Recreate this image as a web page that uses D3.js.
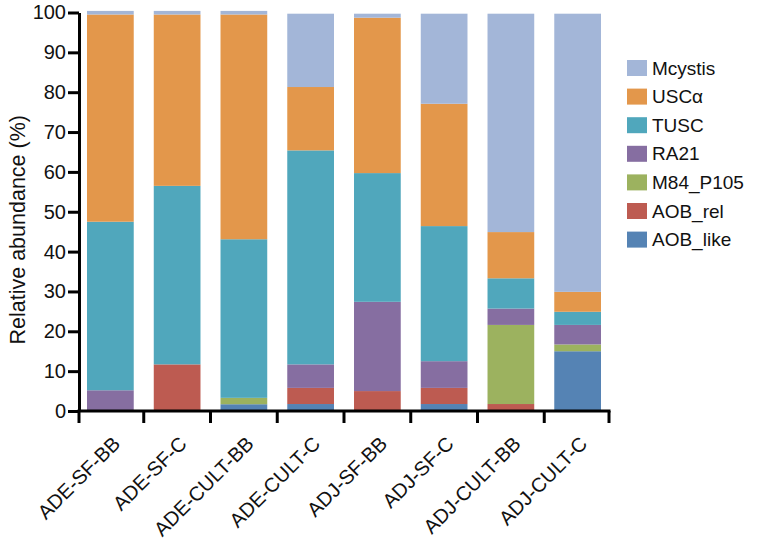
<!DOCTYPE html>
<html>
<head>
<meta charset="utf-8">
<script src="https://cdn.jsdelivr.net/npm/d3@7"></script>
<style>
  html, body { margin: 0; padding: 0; background: #fff; }
  svg { display: block; font-family: "Liberation Sans", Arial, sans-serif; }
</style>
</head>
<body>
<svg id="chart" width="758" height="544"></svg>
<script>
// ---- data ----
const categories = ["ADE-SF-BB", "ADE-SF-C", "ADE-CULT-BB", "ADE-CULT-C", "ADJ-SF-BB", "ADJ-SF-C", "ADJ-CULT-BB", "ADJ-CULT-C"];
// stacking order bottom -> top
const seriesNames = ["AOB_like", "AOB_rel", "M84_P105", "RA21", "TUSC", "USCα", "Mcystis"];
const AOB_like = [0, 0, 1.7, 1.75, 0, 1.75, 0, 15.0];
const AOB_rel  = [0, 11.7, 0, 4.05, 5.0, 4.05, 1.75, 0];
const M84_P105 = [0, 0, 1.6, 0, 0, 0, 19.85, 1.7];
const RA21     = [5.2, 0, 0, 5.9, 22.4, 6.7, 4.1, 4.9];
const TUSC     = [42.3, 44.8, 39.8, 53.7, 32.3, 33.9, 7.6, 3.3];
const USCa     = [52.0, 43.0, 56.4, 15.9, 39.0, 30.7, 11.6, 5.0];
const Mcystis  = [0.9, 0.9, 0.9, 18.4, 1.0, 22.6, 54.8, 69.8];
const yTicks = [0, 10, 20, 30, 40, 50, 60, 70, 80, 90, 100];
const legendOrder = ["Mcystis", "USCα", "TUSC", "RA21", "M84_P105", "AOB_rel", "AOB_like"];

const seriesValues = { "AOB_like": AOB_like, "AOB_rel": AOB_rel, "M84_P105": M84_P105, "RA21": RA21, "TUSC": TUSC, "USCα": USCa, "Mcystis": Mcystis };
const colors = {
  "Mcystis": "#a3b6d8",
  "USCα": "#e3974b",
  "TUSC": "#50a7bc",
  "RA21": "#866ea1",
  "M84_P105": "#9cb25f",
  "AOB_rel": "#bd5b51",
  "AOB_like": "#5583b4"
};

const table = categories.map((c, i) => {
  const row = { cat: c };
  seriesNames.forEach(s => row[s] = seriesValues[s][i]);
  return row;
});

const svg = d3.select("#chart");
const x0 = 79, x1 = 609, yBottom = 411, yTop = 12.5;

const x = d3.scaleBand().domain(categories).range([x0, x1]).paddingInner(0.3).paddingOuter(0.12);
const y = d3.scaleLinear().domain([0, 100]).range([yBottom, yTop]);

const stack = d3.stack().keys(seriesNames);
const stacked = stack(table);

// bars
svg.append("g").selectAll("g").data(stacked).join("g")
  .attr("fill", d => colors[d.key])
  .selectAll("rect").data(d => d).join("rect")
  .attr("x", d => x(d.data.cat))
  .attr("width", x.bandwidth())
  .attr("y", d => y(d[1]))
  .attr("height", d => Math.max(0, y(d[0]) - y(d[1])));

// y axis
const yAxis = d3.axisLeft(y).tickValues(yTicks).tickSize(11).tickPadding(2).tickSizeOuter(0);
const gy = svg.append("g").attr("transform", `translate(${x0},0)`).call(yAxis);
gy.select(".domain").attr("stroke", "#000").attr("stroke-width", 3);
gy.selectAll(".tick line").attr("stroke", "#000").attr("stroke-width", 3);
gy.selectAll(".tick text").attr("font-size", 20).attr("fill", "#111").attr("font-family", "Liberation Sans, Arial, sans-serif");

// x axis: line + ticks at band boundaries
const step = x.step();
const boundaries = categories.map((c, i) => i === 0 ? x0 : x(c) - step * x.paddingInner() / 2).concat([x1]);
const gx = svg.append("g");
gx.append("line").attr("x1", x0 - 1.5).attr("x2", x1 + 1.5).attr("y1", yBottom).attr("y2", yBottom)
  .attr("stroke", "#000").attr("stroke-width", 3);
gx.selectAll("line.tk").data(boundaries).join("line").attr("class", "tk")
  .attr("x1", d => d).attr("x2", d => d).attr("y1", yBottom).attr("y2", yBottom + 12)
  .attr("stroke", "#000").attr("stroke-width", 3);
gx.selectAll("text").data(categories).join("text")
  .attr("transform", d => `translate(${x(d) + x.bandwidth() / 2 + 6},${yBottom + 29}) rotate(-45)`)
  .attr("text-anchor", "end")
  .attr("dy", "0.35em")
  .attr("font-size", 20)
  .attr("fill", "#111")
  .text(d => d);

// y title
svg.append("text")
  .attr("transform", `translate(25,${(yBottom + yTop) / 2 + 18}) rotate(-90)`)
  .attr("text-anchor", "middle")
  .attr("font-size", 21.5)
  .attr("fill", "#111")
  .text("Relative abundance (%)");

// legend
const lg = svg.append("g").attr("transform", "translate(627,68)");
const li = lg.selectAll("g").data(legendOrder).join("g")
  .attr("transform", (d, i) => `translate(0,${i * 28.6})`);
li.append("rect").attr("x", 0).attr("y", -8).attr("width", 20).attr("height", 16).attr("fill", d => colors[d]);
li.append("text").attr("x", 25).attr("y", 0).attr("dy", "0.35em").attr("font-size", 19).attr("fill", "#111").text(d => d);
</script>
</body>
</html>
